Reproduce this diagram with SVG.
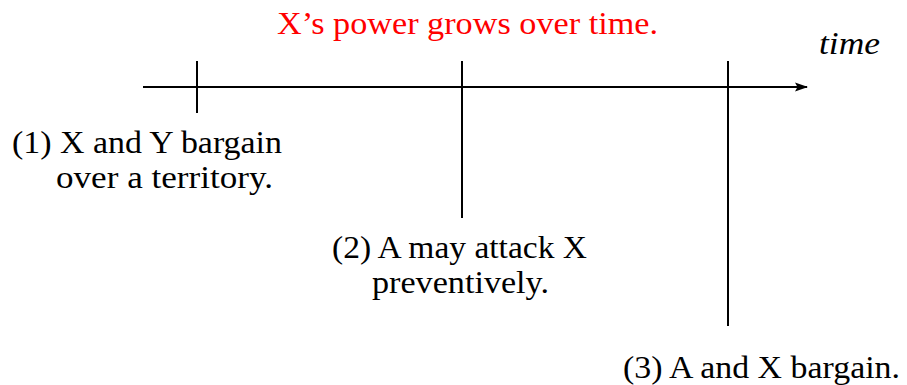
<svg xmlns="http://www.w3.org/2000/svg" width="907" height="385" viewBox="0 0 907 385">
<style>
.t{font-family:"Liberation Serif","DejaVu Serif",serif;font-size:31px;fill:#000}
.red{fill:#ff0000}
.ln{stroke:#000;stroke-width:2;fill:none}
</style>
<defs>
<marker id="ah" markerWidth="13" markerHeight="10" refX="12" refY="5" orient="auto" markerUnits="userSpaceOnUse">
<path d="M0,0.5 L13,5 L0,9.5 L2.5,5 Z" fill="#000"/>
</marker>
</defs>
<rect width="907" height="385" fill="#fff"/>
<g id="connectors">
<line class="ln" x1="143" y1="87" x2="807" y2="87" marker-end="url(#ah)"/>
<line class="ln" x1="197" y1="61" x2="197" y2="113"/>
<line class="ln" x1="462" y1="61" x2="462" y2="218"/>
<line class="ln" x1="728" y1="61" x2="728" y2="326"/>
</g>
<g id="title"><text class="t red" x="277" y="34" textLength="381" lengthAdjust="spacingAndGlyphs">X’s power grows over time.</text></g>
<g id="time"><text class="t" x="819" y="54" font-style="italic" font-size="26" textLength="61" lengthAdjust="spacingAndGlyphs">time</text></g>
<g id="event1">
<text class="t" x="12" y="153" textLength="270" lengthAdjust="spacingAndGlyphs">(1) X and Y bargain</text>
<text class="t" x="56" y="188" textLength="217" lengthAdjust="spacingAndGlyphs">over a territory.</text>
</g>
<g id="event2">
<text class="t" x="332" y="258" textLength="255" lengthAdjust="spacingAndGlyphs">(2) A may attack X</text>
<text class="t" x="372" y="293" textLength="177" lengthAdjust="spacingAndGlyphs">preventively.</text>
</g>
<g id="event3">
<text class="t" x="623" y="378" textLength="277" lengthAdjust="spacingAndGlyphs">(3) A and X bargain.</text>
</g>
</svg>
